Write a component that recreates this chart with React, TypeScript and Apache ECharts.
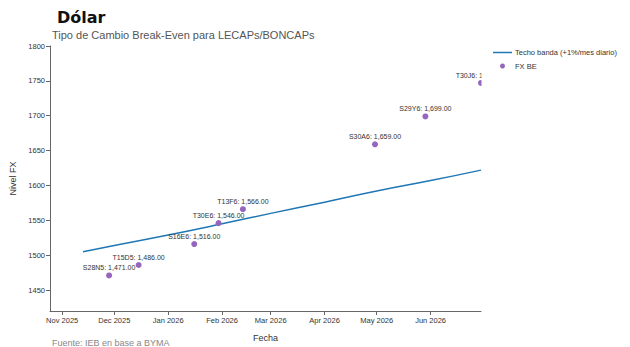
import React, { useEffect, useRef } from "react";
import * as echarts from "echarts";

const bondNames = ["S28N5", "T15D5", "S16E6", "T30E6", "T13F6", "S30A6", "S29Y6", "T30J6"];
const bondDates = ["2025-11-28", "2025-12-15", "2026-01-16", "2026-01-30", "2026-02-13", "2026-04-30", "2026-05-29", "2026-06-30"];
const bondFx = [1471, 1486, 1516, 1546, 1566, 1659, 1699, 1747];

const bandDates = ["2025-11-13", "2025-12-01", "2026-01-01", "2026-02-01", "2026-03-01", "2026-04-01", "2026-05-01", "2026-06-01", "2026-06-30"];
const bandValues = [1505, 1514, 1529, 1545, 1560, 1576, 1592, 1607, 1622];

const monthTicks = ["2025-11-01", "2025-12-01", "2026-01-01", "2026-02-01", "2026-03-01", "2026-04-01", "2026-05-01", "2026-06-01"];
const yTicks = [1450, 1500, 1550, 1600, 1650, 1700, 1750, 1800];
const monthNames = ["Jan", "Feb", "Mar", "Apr", "May", "Jun", "Jul", "Aug", "Sep", "Oct", "Nov", "Dec"];

const lineName = "Techo banda (+1%/mes diario)";
const scatterName = "FX BE";
const lineColor = "#1f77b4";
const dotColor = "#9467bd";

const toTs = (s: string) => {
  const [y, m, d] = s.split("-").map(Number);
  return new Date(y, m - 1, d).getTime();
};

const fmt = (v: number) =>
  v.toLocaleString("en-US", { minimumFractionDigits: 2, maximumFractionDigits: 2 });

export default function App() {
  const ref = useRef<HTMLDivElement>(null);
  useEffect(() => {
    if (!ref.current) return;
    const chart = echarts.init(ref.current, undefined, { renderer: "svg" });
    const font = "Liberation Sans, Arial, sans-serif";
    chart.setOption({
      animation: false,
      textStyle: { fontFamily: font },
      title: [
        {
          text: "Dólar",
          left: 52,
          top: 4,
          textStyle: { fontSize: 16, fontWeight: "bold", color: "#111", fontFamily: "DejaVu Sans" },
        },
        {
          text: "Tipo de Cambio Break-Even para LECAPs/BONCAPs",
          left: 47,
          top: 24,
          textStyle: { fontSize: 11, fontWeight: "normal", color: "#555", fontFamily: font },
        },
      ],
      grid: { left: 50, right: 149, top: 46, bottom: 34 },
      xAxis: {
        type: "value",
        min: toTs("2025-10-25"),
        max: toTs("2026-06-30"),
        name: "Fecha",
        nameLocation: "middle",
        nameGap: 22,
        nameTextStyle: { fontSize: 9, color: "#333" },
        axisLine: { lineStyle: { color: "#666", width: 1 } },
        axisTick: { show: true, length: 4, lineStyle: { color: "#666" }, customValues: monthTicks.map(toTs) },
        axisLabel: {
          fontSize: 7.5,
          color: "#333",
          margin: 5,
          hideOverlap: false,
          customValues: monthTicks.map(toTs),
          formatter: (v: number) => {
            const d = new Date(v);
            return monthNames[d.getMonth()] + " " + d.getFullYear();
          },
        },
        splitLine: { show: false },
      },
      yAxis: {
        type: "value",
        min: 1420,
        max: 1800,
        name: "Nivel FX",
        nameLocation: "middle",
        nameGap: 33,
        nameTextStyle: { fontSize: 9, color: "#333" },
        axisLine: { show: true, lineStyle: { color: "#666", width: 1 } },
        axisTick: { show: true, length: 4, lineStyle: { color: "#666" }, customValues: yTicks },
        axisLabel: {
          fontSize: 7.5,
          color: "#333",
          margin: 5,
          customValues: yTicks,
          formatter: (v: number) => String(v),
        },
        splitLine: { show: false },
      },
      series: [
        {
          name: lineName,
          type: "line",
          symbol: "none",
          smooth: true,
          lineStyle: { color: lineColor, width: 1.5 },
          itemStyle: { color: lineColor },
          data: bandDates.map((d, i) => [toTs(d), bandValues[i]]),
          z: 2,
        },
        {
          name: scatterName,
          type: "scatter",
          symbolSize: 6,
          itemStyle: { color: dotColor, opacity: 1 },
          label: {
            show: true,
            position: "top",
            distance: 1,
            fontSize: 7,
            color: "#333",
            formatter: (p: any) => bondNames[p.dataIndex] + ": " + fmt(bondFx[p.dataIndex]),
          },
          data: bondDates.map((d, i) => [toTs(d), bondFx[i]]),
          z: 3,
        },
      ],
      graphic: [
        {
          type: "rect",
          shape: { x: 481.5, y: 69, width: 40, height: 27 },
          style: { fill: "#fff" },
          z: 100,
        },
        {
          type: "line",
          shape: { x1: 493, y1: 52.5, x2: 512, y2: 52.5 },
          style: { stroke: lineColor, lineWidth: 1.5 },
          z: 101,
        },
        {
          type: "text",
          x: 515,
          y: 52.5,
          style: { text: lineName, fontSize: 7.5, fill: "#333", fontFamily: font, verticalAlign: "middle" },
          z: 101,
        },
        {
          type: "circle",
          shape: { cx: 502.5, cy: 66, r: 2.5 },
          style: { fill: dotColor },
          z: 101,
        },
        {
          type: "text",
          x: 515,
          y: 66,
          style: { text: scatterName, fontSize: 7.5, fill: "#333", fontFamily: font, verticalAlign: "middle" },
          z: 101,
        },
        {
          type: "text",
          left: 52,
          top: 338,
          style: { text: "Fuente: IEB en base a BYMA", fontSize: 9, fill: "#888", fontFamily: font },
        },
      ],
    });
    return () => chart.dispose();
  }, []);
  return <div ref={ref} style={{ width: 630, height: 347, position: "absolute", left: 0, top: 0 }} />;
}
